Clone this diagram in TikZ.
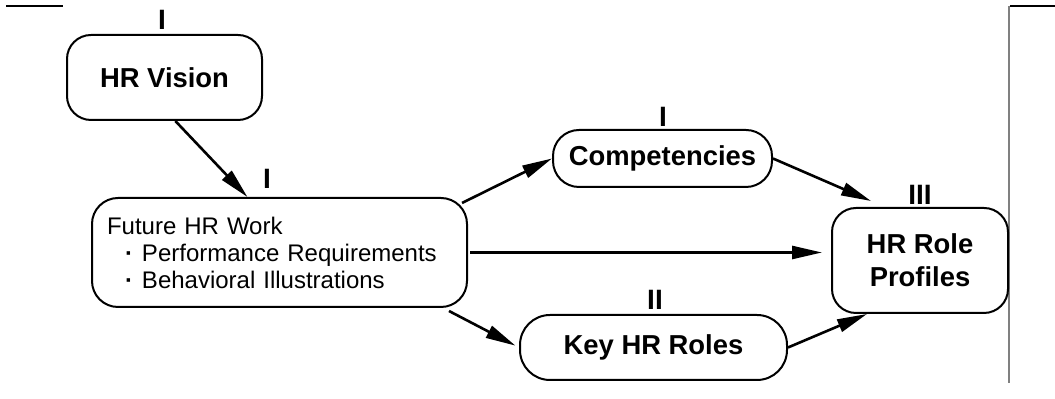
\documentclass[tikz,border=0pt]{standalone}
\usepackage{fontspec}
\setmainfont{Liberation Sans}
\usetikzlibrary{arrows.meta}

\begin{document}
\begin{tikzpicture}[x=0.5pt, y=-0.5pt]
        \tikzstyle{every node}=[inner sep=0pt, font=\fontsize{13.7}{16.5}\selectfont\bfseries]
        \tikzstyle{box}=[draw, line width=1pt, align=center]
        \tikzstyle{num}=[font=\fontsize{14}{16}\selectfont\bfseries]
        \tikzstyle{link}=[line width=1.3pt, -{Triangle[length=15pt,width=6.5pt]}]
        \useasboundingbox (0,0) rectangle (1055,399);
        % page edges
        \draw [line width=0.6pt] (6,6) -- (63,6);
        \draw [line width=0.6pt] (1010,6) -- (1055,6);
        \draw [gray, line width=1pt] (1009,6) -- (1009,383);
        % boxes
        \node [box, rounded corners=12pt, minimum width=97.5pt, minimum height=42.5pt] (vision) at (164.5,77.5) {HR Vision};
        \node [box, rounded corners=13pt, minimum width=187.5pt, minimum height=54.5pt, text width=172.5pt, align=left, font=\fontsize{12}{13.5}\selectfont] (future) at (279.5,252.5) {Future HR Work\\\hspace*{9pt}{\bfseries ·}\hspace{4.5pt}Performance Requirements\\\hspace*{9pt}{\bfseries ·}\hspace{4.5pt}Behavioral Illustrations};
        \node [box, rounded corners=13pt, minimum width=109.5pt, minimum height=28.5pt] (comp) at (662.5,158.5) {Competencies};
        \node [box, rounded corners=15pt, minimum width=133.5pt, minimum height=32.5pt] (key) at (653.5,347.5) {Key HR Roles};
        \node [box, rounded corners=12pt, minimum width=88pt, minimum height=52.5pt] (prof) at (920,260.5) {HR Role\\Profiles};
        % phase numbers
        \node [num] (visionnum) at (162,19.5) {I};
        \node [num] (futurenum) at (267,179) {I};
        \node [num] (compnum) at (663,116.5) {I};
        \node [num] (keynum) at (655,299.5) {II};
        \node [num] (profnum) at (920,195) {III};
        % arrows
        \draw [link] (vision.-76) -- (future.120);
        \draw [link] ([xshift=-3pt,yshift=-3pt]future.north east) -- (comp.west);
        \draw [link] (comp.east) -- ([xshift=20pt,yshift=3pt]prof.north west);
        \draw [link, shorten <=1pt, shorten >=4.5pt] (future.east) -- (future.east -| prof.west);
        \draw [link, shorten >=2pt] ([xshift=-9.5pt,yshift=-1.5pt]future.south east) -- (key.west);
        \draw [link] (key.east) -- ([xshift=18pt]prof.south west);
\end{tikzpicture}
\end{document}
